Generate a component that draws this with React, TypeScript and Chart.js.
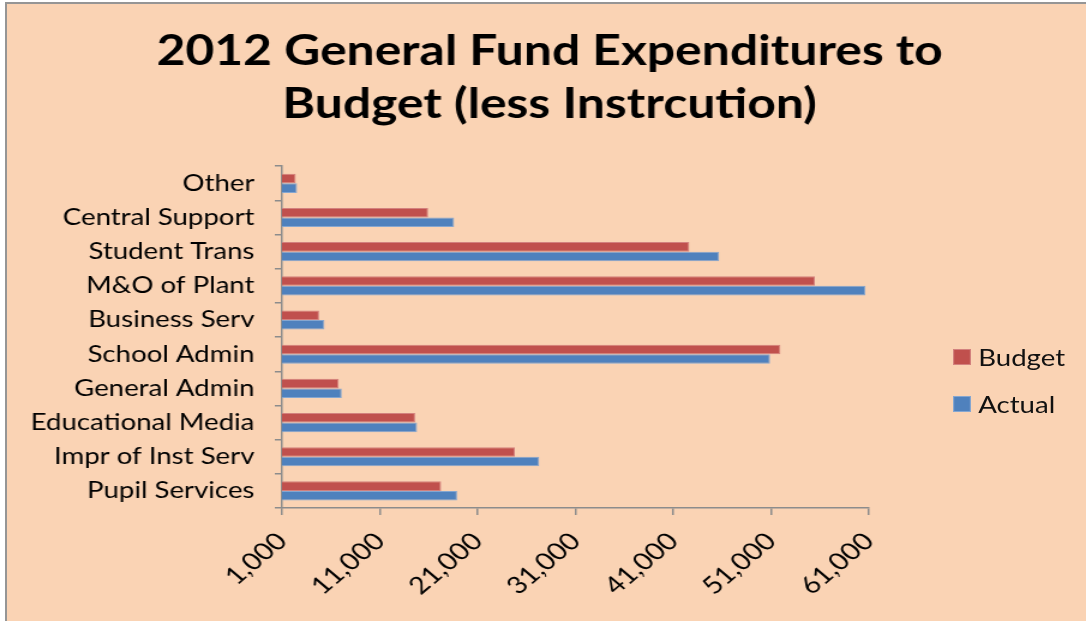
import React, { useEffect, useRef } from 'react';
import { Chart, registerables } from 'chart.js';

Chart.register(...registerables);

const TITLE_LINES = ['2012 General Fund Expenditures to', 'Budget (less Instrcution)'];

const CATEGORIES = [
  'Other',
  'Central Support',
  'Student Trans',
  'M&O of Plant',
  'Business Serv',
  'School Admin',
  'General Admin',
  'Educational Media',
  'Impr of Inst Serv',
  'Pupil Services',
];

const BUDGET = [2400, 15940, 42650, 55480, 4790, 51960, 6800, 14610, 24810, 17270];
const ACTUAL = [2540, 18600, 45700, 60650, 5340, 50900, 7110, 14810, 27300, 18900];

const SERIES_NAMES = ['Budget', 'Actual'];
const SERIES_COLORS = ['#C0504D', '#4F81BD'];
const SERIES_EDGES = ['#D3817E', '#85A6D0'];

const X_MIN = 1000;
const X_MAX = 61000;
const X_STEP = 10000;

const PAGE_W = 1086;
const PAGE_H = 621;
const STRETCH = 1.2;
const CANVAS_W = Math.round(PAGE_W / STRETCH);
const FONT = 'Lato, "Open Sans", sans-serif';
const AXIS_GRAY = '#8c8c8c';
const BG = '#FAD3B4';

const PAD_LEFT = 11;
const PLOT_LEFT = 235;
const PLOT_RIGHT = 724;

export default function App() {
  const canvasRef = useRef<HTMLCanvasElement | null>(null);

  useEffect(() => {
    if (!canvasRef.current) return;
    const chart = new Chart(canvasRef.current, {
      type: 'bar',
      data: {
        labels: CATEGORIES,
        datasets: [
          {
            label: SERIES_NAMES[0],
            data: BUDGET,
            backgroundColor: SERIES_COLORS[0],
            borderColor: SERIES_EDGES[0],
            borderWidth: 1,
            categoryPercentage: 0.56,
            barPercentage: 1.0,
          },
          {
            label: SERIES_NAMES[1],
            data: ACTUAL,
            backgroundColor: SERIES_COLORS[1],
            borderColor: SERIES_EDGES[1],
            borderWidth: 1,
            categoryPercentage: 0.56,
            barPercentage: 1.0,
          },
        ],
      },
      options: {
        indexAxis: 'y',
        responsive: false,
        animation: false,
        layout: { padding: { top: 0, left: PAD_LEFT, right: 0, bottom: 0 } },
        plugins: {
          legend: { display: false },
          tooltip: { enabled: false },
          title: {
            display: true,
            text: TITLE_LINES,
            color: '#000',
            font: { family: FONT, size: 41.5, weight: 'bold', lineHeight: 1.28 },
            padding: { top: 25, bottom: 35 },
          },
        },
        scales: {
          x: {
            min: X_MIN,
            max: X_MAX,
            ticks: {
              stepSize: X_STEP,
              autoSkip: false,
              maxRotation: 45,
              minRotation: 45,
              color: '#000',
              font: { family: FONT, size: 24 },
              padding: 12,
              callback: (v: any) => Number(v).toLocaleString('en-US'),
            },
            grid: { drawOnChartArea: false, drawTicks: true, tickLength: 7, color: AXIS_GRAY, lineWidth: 1.5 },
            border: { color: AXIS_GRAY, width: 1.5 },
            afterFit: (s: any) => {
              s.height = PAGE_H - 508;
            },
          },
          y: {
            ticks: {
              color: '#000',
              font: { family: FONT, size: 23 },
              padding: 17,
            },
            grid: { drawOnChartArea: false, offset: true, tickLength: 6, color: AXIS_GRAY, lineWidth: 1.5 },
            border: { color: AXIS_GRAY, width: 1.5 },
            afterFit: (s: any) => {
              s.width = PLOT_LEFT - PAD_LEFT;
            },
          },
          legendSpace: {
            type: 'linear',
            position: 'right',
            display: true,
            min: 0,
            max: 1,
            ticks: { display: false },
            grid: { display: false },
            border: { display: false },
            afterFit: (s: any) => {
              s.width = CANVAS_W - PLOT_RIGHT;
            },
          },
        },
      },
    } as any);
    return () => chart.destroy();
  }, []);

  return (
    <div style={{ position: 'fixed', left: 0, top: 0, width: PAGE_W, height: PAGE_H, overflow: 'hidden', background: '#fff' }}>
      <div
        style={{
          position: 'absolute',
          left: 5,
          top: 2,
          width: PAGE_W + 20,
          height: PAGE_H + 20,
          background: BG,
          border: '2px solid #959595',
        }}
      />
      <canvas
        ref={canvasRef}
        width={CANVAS_W}
        height={PAGE_H}
        style={{ position: 'absolute', left: 0, top: 0, width: PAGE_W, height: PAGE_H }}
      />
      <div style={{ position: 'absolute', left: 953, top: 345, transform: `scaleX(${STRETCH})`, transformOrigin: 'left top' }}>
        {SERIES_NAMES.map((name, i) => (
          <div key={name} style={{ display: 'flex', alignItems: 'center', height: 24, marginBottom: i === 0 ? 23 : 0 }}>
            <div style={{ width: 15, height: 16, background: SERIES_COLORS[i], border: `1px solid ${SERIES_EDGES[i]}`, boxSizing: 'border-box' }} />
            <span style={{ marginLeft: 6, fontFamily: FONT, fontSize: 23, color: '#111', lineHeight: '24px' }}>{name}</span>
          </div>
        ))}
      </div>
    </div>
  );
}
